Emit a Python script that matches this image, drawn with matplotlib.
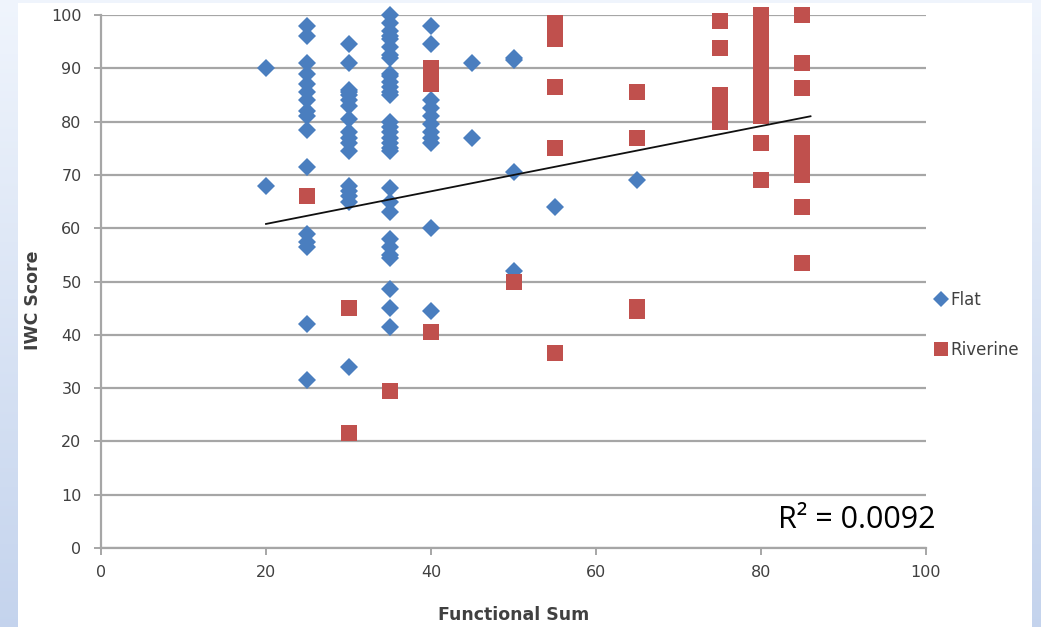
import numpy as np
import matplotlib
matplotlib.use("Agg")
import matplotlib.pyplot as plt
from matplotlib.patches import Rectangle

# ---------------- data ----------------
flat_x = ([20, 20] + [25] * 16 + [30] * 17 + [35] * 31 + [40] * 11 +
          [45] * 2 + [50] * 4 + [55] + [65])
flat_y = ([90, 68] +
          [98, 96, 91, 89, 87, 85.5, 84, 82, 81, 78.5, 71.5, 59, 57.5, 56.5, 42, 31.5] +
          [94.5, 91, 86, 85, 84, 83, 80.5, 78, 77, 74.5, 68, 67, 66, 65, 34, 85.5, 76] +
          [100, 98.5, 97, 95.5, 94, 92.5, 92, 88.5, 87.5, 86.5, 85.5, 85,
           80, 79, 78, 77, 76, 75, 67.5, 65, 63, 58, 56.5, 55, 54.5,
           48.5, 45, 41.5, 89, 74.5, 96] +
          [98, 94.5, 84, 82.5, 81, 79.5, 78, 77, 76, 60, 44.5] +
          [91, 77] +
          [92, 91.5, 70.5, 52] +
          [64] +
          [69])

riv_x = ([25] + [30] * 2 + [35] + [40] * 4 + [50] + [55] * 6 + [65] * 4 +
         [75] * 8 + [80] * 22 + [85] * 10)
riv_y = ([66] +
         [45, 21.5] +
         [29.5] +
         [90, 88.5, 87, 40.5] +
         [50] +
         [98.5, 97, 95.5, 86.5, 75, 36.5] +
         [85.5, 77, 45.2, 44.5] +
         [98.8, 93.8, 85, 84, 83, 82, 81, 80] +
         [100, 99, 98, 97, 96, 95, 94, 93, 92, 91, 90, 89, 88, 87, 86,
          85, 84, 83, 82, 81, 76, 69] +
         [100, 91, 86.3, 76, 74.5, 73, 71.5, 70, 64, 53.5])

trend_x = [20, 86]
trend_y = [60.8, 81.0]
r2_text = "R\u00b2 = 0.0092"

x_ticks = [0, 20, 40, 60, 80, 100]
y_ticks = [0, 10, 20, 30, 40, 50, 60, 70, 80, 90, 100]

# ---------------- figure ----------------
W, H = 1041, 627
fig = plt.figure(figsize=(W / 100, H / 100), dpi=100)

# background gradient (light blue)
bg = fig.add_axes([0, 0, 1, 1], zorder=-10)
grad = np.linspace(0, 1, 256).reshape(-1, 1)
top_c = np.array([0.94, 0.96, 0.99])
bot_c = np.array([0.77, 0.83, 0.93])
img = top_c[None, None, :] * (1 - grad[:, :, None]) + bot_c[None, None, :] * grad[:, :, None]
bg.imshow(img, aspect="auto", extent=[0, 1, 0, 1], origin="upper")
bg.add_patch(Rectangle((18 / W, 0), (1032 - 18) / W, 1 - 3 / H,
                       facecolor="white", edgecolor="none"))
bg.set_xlim(0, 1)
bg.set_ylim(0, 1)
bg.axis("off")

ax = fig.add_axes([101 / W, 1 - 548 / H, (926 - 101) / W, (548 - 15) / H])
ax.set_facecolor("none")

blue = "#4a7ebf"
red = "#c0504d"
grid_c = "#a6a6a6"
text_c = "#404040"

ax.plot(flat_x, flat_y, linestyle="none", marker="D", markersize=9.5,
        color=blue, markeredgewidth=0, label="Flat", zorder=3, clip_on=False)
ax.plot(riv_x, riv_y, linestyle="none", marker="s", markersize=12,
        color=red, markeredgewidth=0, label="Riverine", zorder=4, clip_on=False)
ax.plot(trend_x, trend_y, color="#101010", linewidth=1.3, zorder=5)

ax.set_xlim(0, 100)
ax.set_ylim(0, 100)
ax.set_xticks(x_ticks)
ax.set_yticks(y_ticks)
ax.yaxis.grid(True, color=grid_c, linewidth=1.6, zorder=0)
ax.set_axisbelow(True)
for s in ["top", "right"]:
    ax.spines[s].set_visible(False)
for s in ["left", "bottom"]:
    ax.spines[s].set_color(grid_c)
    ax.spines[s].set_linewidth(1.6)
ax.tick_params(axis="both", colors=grid_c, length=5, width=1.4,
               labelcolor=text_c, labelsize=11.5)
ax.tick_params(axis="x", pad=7)
ax.tick_params(axis="y", pad=9)
for lab in ax.get_xticklabels() + ax.get_yticklabels():
    lab.set_family("DejaVu Sans")

ax.set_xlabel("Functional Sum", fontsize=12.5, fontweight="bold", color=text_c,
              family="DejaVu Sans")
ax.set_ylabel("IWC Score", fontsize=12.5, fontweight="bold", color=text_c,
              family="DejaVu Sans", va="center")
ax.xaxis.set_label_coords(0.5, -(606 - 548) / 533)
ax.yaxis.set_label_coords(-(101 - 33) / 825, (548 - 300) / 533)

fig.text(936 / W, 1 - 520 / H, r2_text, ha="right", va="center",
         fontsize=22, color="black", family="Open Sans")

leg = ax.legend(loc="center left", bbox_to_anchor=(919 / W, 1 - 325 / H),
                bbox_transform=fig.transFigure, frameon=False,
                prop={"family": "DejaVu Sans", "size": 12},
                labelspacing=1.95, handlelength=0.8, handletextpad=0.2,
                markerscale=0.85)
for t in leg.get_texts():
    t.set_color(text_c)

fig.savefig("out.png", dpi=100)
